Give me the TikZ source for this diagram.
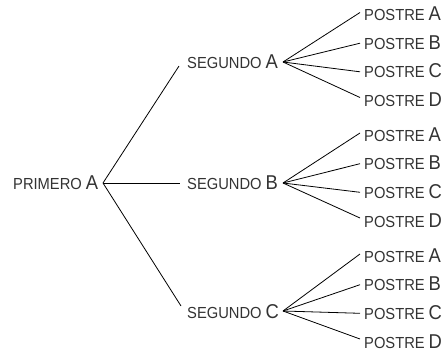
\documentclass[tikz,border=0pt]{standalone}
\usepackage{fontspec}
\setmainfont{Liberation Sans}[FakeStretch=0.92]
\definecolor{txt}{HTML}{333333}
\newcommand\lblx[2]{{\fontsize{16}{17}\selectfont #1}\hspace{4pt}{\fontsize{20}{21}\selectfont #2}}
\begin{document}
\begin{tikzpicture}[x=1pt,y=-1pt,
  lab/.style={anchor=base west, inner sep=0pt, text=txt},
  conn/.style={line width=0.8pt, black}]
\useasboundingbox (0,0) rectangle (445,362);
% first level
\node[lab] (p) at (13,189) {\lblx{PRIMERO}{A}};
\coordinate (pf) at (103,183);
% second level
\node[lab] (sa) at (187,68) {\lblx{SEGUNDO}{A}};
\node[lab] (sb) at (187,189) {\lblx{SEGUNDO}{B}};
\node[lab] (sc) at (187,318) {\lblx{SEGUNDO}{C}};
\coordinate (sain) at (179,66);
\coordinate (sbin) at (180,183);
\coordinate (scin) at (181,306);
\draw[conn] (pf) -- (sain);
\draw[conn] (pf) -- (sbin);
\draw[conn] (pf) -- (scin);
% fans
\coordinate (saf) at (283,62);
\coordinate (sbf) at (283,183);
\coordinate (scf) at (283,311);
% third level
\foreach \g/\c in {a/14.5,b/135,c/256}{
  \foreach \r/\o/\e in {A/0/-2,B/28.7/0,C/57.3/0,D/86/-3}{
    \node[lab] (t\g\r) at (364,\c+\o+6) {\lblx{POSTRE}{\r}};
    \coordinate (t\g\r in) at (360,\c+\o+\e);
    \draw[conn] (s\g f) -- (t\g\r in);
  }
}
\end{tikzpicture}
\end{document}
